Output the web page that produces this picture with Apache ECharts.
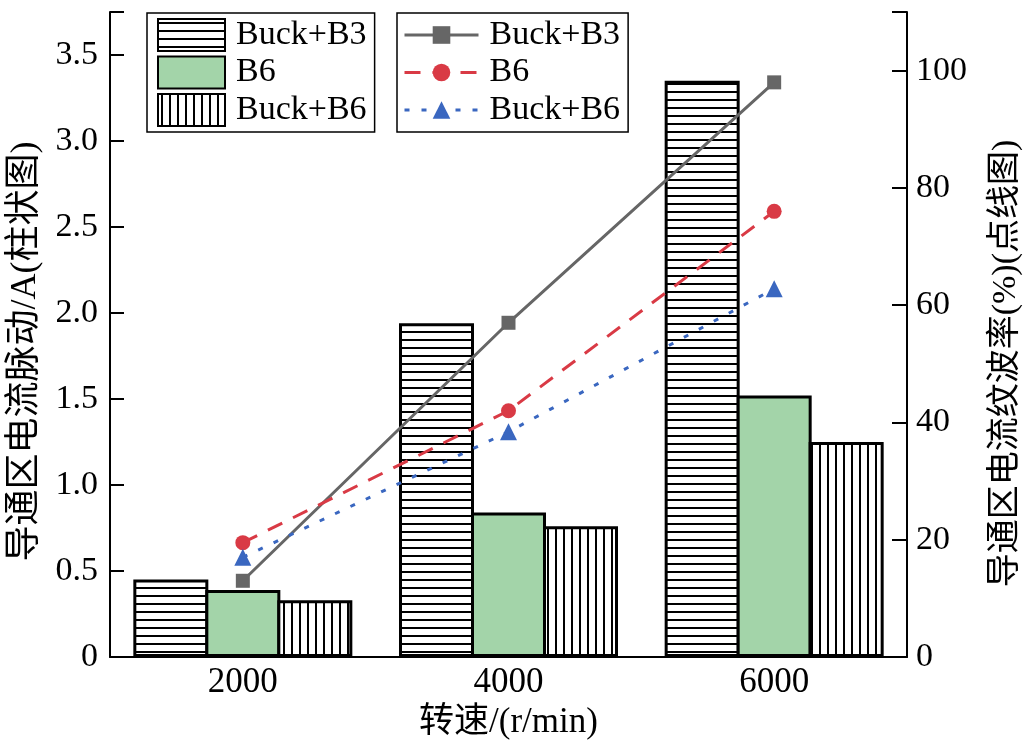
<!DOCTYPE html>
<html>
<head>
<meta charset="utf-8">
<script src="https://cdn.jsdelivr.net/npm/echarts@6/dist/echarts.min.js"></script>
<style>html,body{margin:0;padding:0;background:#fff}#c{width:1031px;height:747px}</style>
</head>
<body>
<div id="c"></div>
<script>
const categories = ['2000', '4000', '6000'];
const barBuckB3 = [0.45, 1.94, 3.35];
const barB6 = [0.39, 0.84, 1.52];
const barBuckB6 = [0.33, 0.76, 1.25];
const lineBuckB3 = [13, 57, 98];
const lineB6 = [19.5, 42, 76];
const lineBuckB6 = [17, 38.4, 62.8];
const barNames = ['Buck+B3', 'B6', 'Buck+B6'];
const lineNames = ['Buck+B3_L', 'B6_L', 'Buck+B6_L'];

const FONT = '"Liberation Serif", "Times New Roman", "Noto Sans CJK SC", serif';

function makePattern(dir) {
  const c = document.createElement('canvas');
  c.width = 8; c.height = 8;
  const ctx = c.getContext('2d');
  ctx.fillStyle = '#fff'; ctx.fillRect(0, 0, 8, 8);
  ctx.fillStyle = '#000';
  if (dir === 'h') ctx.fillRect(0, 3, 8, 2); else ctx.fillRect(3, 0, 2, 8);
  return c;
}
const hPat = { image: makePattern('h'), repeat: 'repeat' };
const vPat = { image: makePattern('v'), repeat: 'repeat' };

const chart = echarts.init(document.getElementById('c'));
const legendBase = {
  orient: 'vertical', top: 13, itemGap: 3.5,
  borderColor: '#000', borderWidth: 1.5,
  textStyle: { fontSize: 34, fontFamily: FONT, color: '#000', padding: [0, 0, 0, 6] },
  backgroundColor: '#fff'
};
chart.setOption({
  animation: false,
  grid: { left: 103, right: 122, top: 12, bottom: 90 },
  legend: [
    Object.assign({}, legendBase, { data: barNames, left: 147, itemWidth: 67, itemHeight: 32,
      padding: [5, 8, 5, 10], icon: 'rect' }),
    Object.assign({}, legendBase, { data: lineNames, left: 397, itemWidth: 74, itemHeight: 22,
      padding: [5, 8, 5, 6], lineStyle: { width: 3 },
      formatter: n => n.replace('_L', '') })
  ],
  xAxis: {
    type: 'category', data: categories,
    name: '转速/(r/min)', nameLocation: 'middle', nameGap: 46,
    nameTextStyle: { fontSize: 35, fontFamily: FONT, color: '#000' },
    axisLine: { lineStyle: { color: '#000', width: 2 } },
    axisTick: { inside: true, alignWithLabel: true, length: 16, lineStyle: { color: '#000', width: 2 } },
    axisLabel: { fontSize: 35, fontFamily: FONT, color: '#000', margin: 8 }
  },
  yAxis: [
    {
      type: 'value', min: 0, max: 3.75, interval: 0.5,
      name: '导通区电流脉动/A(柱状图)', nameLocation: 'middle', nameGap: 66, nameRotate: 90,
      nameTextStyle: { fontSize: 36, fontFamily: FONT, color: '#000', padding: [0, 34, 0, 0] },
      axisLine: { show: true, lineStyle: { color: '#000', width: 2 } },
      axisTick: { show: true, inside: true, length: 14, lineStyle: { color: '#000', width: 2 } },
      splitLine: { show: false },
      axisLabel: { fontSize: 34, fontFamily: FONT, color: '#000', margin: 12,
        formatter: v => (Math.abs(v * 2 - Math.round(v * 2)) < 1e-9 ? (v === 0 ? '0' : v.toFixed(1)) : '') }
    },
    {
      type: 'value', min: 0, max: 110, interval: 20, position: 'right',
      name: '导通区电流纹波率(%)(点线图)', nameLocation: 'middle', nameGap: 82, nameRotate: 90,
      nameTextStyle: { fontSize: 34, fontFamily: FONT, color: '#000', padding: [0, 58, 0, 0] },
      axisLine: { show: true, lineStyle: { color: '#000', width: 2 } },
      axisTick: { show: true, inside: true, length: 15, lineStyle: { color: '#000', width: 2 } },
      splitLine: { show: false },
      axisLabel: { fontSize: 34, fontFamily: FONT, color: '#000', margin: 9,
        formatter: v => (v % 20 === 0 ? String(v) : '') }
    }
  ],
  series: [
    { name: barNames[0], type: 'bar', data: barBuckB3, barWidth: 75, barGap: '-4%',
      itemStyle: { color: hPat, borderColor: '#000', borderWidth: 3 } },
    { name: barNames[1], type: 'bar', data: barB6, barWidth: 75, barGap: '-4%',
      itemStyle: { color: '#a3d4a9', borderColor: '#000', borderWidth: 3 } },
    { name: barNames[2], type: 'bar', data: barBuckB6, barWidth: 75, barGap: '-4%',
      itemStyle: { color: vPat, borderColor: '#000', borderWidth: 3 } },
    { name: lineNames[0], type: 'line', yAxisIndex: 1, data: lineBuckB3, z: 5,
      symbol: 'rect', symbolSize: 14,
      lineStyle: { color: '#666666', width: 3, type: 'solid' },
      itemStyle: { color: '#666666' } },
    { name: lineNames[1], type: 'line', yAxisIndex: 1, data: lineB6, z: 5,
      symbol: 'circle', symbolSize: 15,
      lineStyle: { color: '#d93a45', width: 3, type: [16, 12] },
      itemStyle: { color: '#d93a45' } },
    { name: lineNames[2], type: 'line', yAxisIndex: 1, data: lineBuckB6, z: 5,
      symbol: 'triangle', symbolSize: 17,
      lineStyle: { color: '#3a67c0', width: 3, type: [5, 12] },
      itemStyle: { color: '#3a67c0' } }
  ]
});
</script>
</body>
</html>
